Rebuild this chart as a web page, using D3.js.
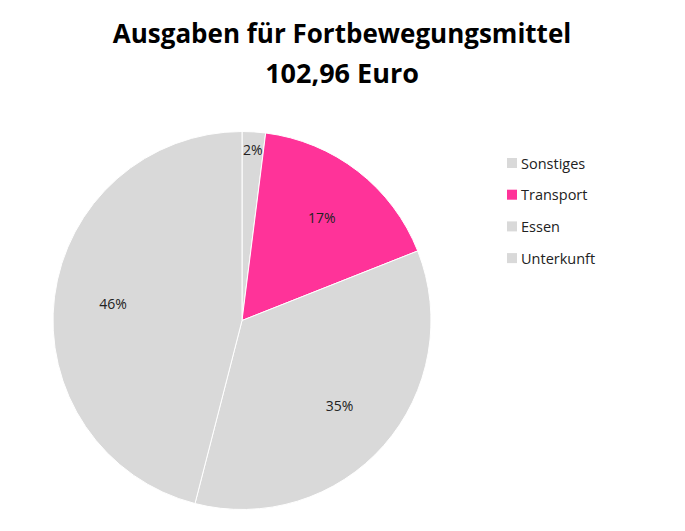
<!DOCTYPE html>
<html>
<head>
<meta charset="utf-8">
<script src="https://cdn.jsdelivr.net/npm/d3@7"></script>
<style>
 body { margin: 0; background: #fff; }
 text { font-family: "Open Sans", "Noto Sans", sans-serif; }
</style>
</head>
<body>
<div id="chart"></div>
<script>
let categories = ['Sonstiges', 'Transport', 'Essen', 'Unterkunft'];
let values = [2, 17, 35, 46];
let colors = ['#d9d9d9', '#ff3399', '#d9d9d9', '#d9d9d9'];
let titleLines = ['Ausgaben für Fortbewegungsmittel', '102,96 Euro'];

let width = 685, height = 531, radius = 189;

let svg = d3.select('#chart').append('svg').attr('width', width).attr('height', height);

svg.selectAll('.title').data(titleLines).enter()
  .append('text')
  .attr('x', 342).attr('y', (d, i) => 43 + i * 40)
  .attr('text-anchor', 'middle')
  .style('font-size', (d, i) => i == 0 ? '26px' : '27px').style('font-weight', 'bold').style('fill', '#000')
  .text(d => d);

let data = categories.map((c, i) => ({name: c, value: values[i], color: colors[i]}));

let pie = d3.pie().sort(null).value(d => d.value);
let arc = d3.arc().innerRadius(0).outerRadius(radius);
let labelArc = d3.arc().innerRadius(130).outerRadius(130);
let outerLabel = d3.arc().innerRadius(171).outerRadius(171);

let g = svg.append('g').attr('transform', 'translate(242,320.5)');

let slices = pie(data);

g.selectAll('path').data(slices).enter()
  .append('path')
  .attr('d', arc)
  .style('fill', d => d.data.color)
  .style('stroke', '#fff')
  .style('stroke-width', 1);

g.selectAll('.lbl').data(slices).enter()
  .append('text')
  .attr('transform', d => 'translate(' + (d.data.value < 5 ? outerLabel : labelArc).centroid(d) + ')')
  .attr('text-anchor', 'middle').attr('dy', '0.35em')
  .style('font-size', '14px').style('fill', '#222')
  .text(d => d.data.value + '%');

let legend = svg.append('g').attr('transform', 'translate(507,158)');
let rows = legend.selectAll('g').data(data).enter()
  .append('g').attr('transform', (d, i) => 'translate(0,' + i * 31.7 + ')');
rows.append('rect').attr('width', 10).attr('height', 10).style('fill', d => d.color);
rows.append('text').attr('x', 14).attr('y', 10.5)
  .style('font-size', '14.5px').style('fill', '#222')
  .text(d => d.name);
</script>
</body>
</html>
